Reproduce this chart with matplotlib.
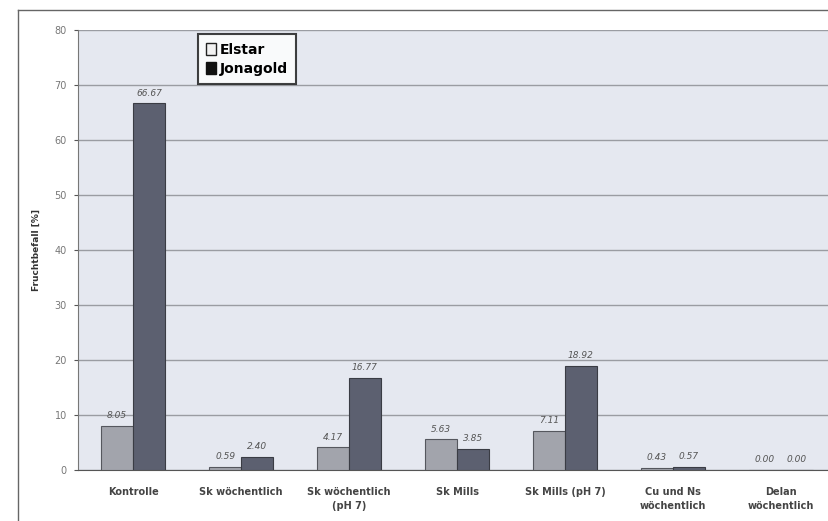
import matplotlib
matplotlib.use("Agg")
import matplotlib.pyplot as plt
import numpy as np
from matplotlib.lines import Line2D

categories = ["Kontrolle", "Sk wöchentlich", "Sk wöchentlich\n(pH 7)", "Sk Mills",
              "Sk Mills (pH 7)", "Cu und Ns\nwöchentlich", "Delan\nwöchentlich"]
elstar = [8.05, 0.59, 4.17, 5.63, 7.11, 0.43, 0.00]
jonagold = [66.67, 2.40, 16.77, 3.85, 18.92, 0.57, 0.00]
series_names = ["Elstar", "Jonagold"]
yticks = [0, 10, 20, 30, 40, 50, 60, 70, 80]

fig = plt.figure(figsize=(8.29, 5.21), dpi=100)
fig.patch.set_facecolor("white")
ax = fig.add_axes([78/829, 1-470/521, 757/829, 440/521])
ax.set_facecolor("#e5e8f0")

x = np.arange(len(categories))
w = 0.295
c_el = "#a2a4ac"
c_jo = "#5c6070"
ax.bar(x - w/2, elstar, w, color=c_el, edgecolor="#55575e", linewidth=0.8, zorder=3)
ax.bar(x + w/2, jonagold, w, color=c_jo, edgecolor="#3a3c44", linewidth=0.8, zorder=3)

for xi, v in zip(x, elstar):
    ax.text(xi - w/2, v + 1.0, f"{v:.2f}", ha="center", va="bottom", fontsize=6.5,
            color="#555555", style="italic", zorder=4)
for xi, v in zip(x, jonagold):
    ax.text(xi + w/2, v + 1.0, f"{v:.2f}", ha="center", va="bottom", fontsize=6.5,
            color="#555555", style="italic", zorder=4)

ax.set_xlim(-0.51, 6.5)
ax.set_ylim(0, 80)
ax.set_yticks(yticks)
ax.set_yticklabels([str(t) for t in yticks], fontsize=7, color="#777777")
ax.yaxis.grid(True, color="#9a9ca2", linewidth=1.0, zorder=0)
ax.set_axisbelow(True)
ax.set_xticks(x)
ax.set_xticklabels(categories, fontsize=7, fontweight="bold", color="#444444", linespacing=1.6)
ax.tick_params(axis="x", length=0, pad=12)
ax.tick_params(axis="y", length=3, color="#555555", pad=5)
for s in ["top", "right"]:
    ax.spines[s].set_visible(False)
ax.spines["left"].set_color("#777777")
ax.spines["bottom"].set_color("#555555")
ax.set_ylabel("Fruchtbefall [%]", fontsize=6.5, fontweight="bold", color="#333333", labelpad=10)

handles = [plt.Rectangle((0, 0), 1, 1, facecolor="#f2f2f2", edgecolor="#222222"),
           plt.Rectangle((0, 0), 1, 1, facecolor="#111111", edgecolor="#111111")]
leg = ax.legend(handles, series_names, loc="upper left", bbox_to_anchor=(0.158, 0.99),
                frameon=True, fancybox=False, handlelength=0.7, handleheight=0.9,
                handletextpad=0.3, borderpad=0.6, labelspacing=0.35, borderaxespad=0,
                prop={"weight": "bold", "size": 10})
leg.get_frame().set_edgecolor("#111111")
leg.get_frame().set_linewidth(1.5)
leg.get_frame().set_facecolor("white")

# outer chart frame
fig.add_artist(Line2D([18/829, 18/829], [0, 1-10/521], transform=fig.transFigure,
                      color="#666666", linewidth=1.0))
fig.add_artist(Line2D([18/829, 1], [1-10/521, 1-10/521], transform=fig.transFigure,
                      color="#666666", linewidth=1.0))

fig.savefig("out.png", dpi=100)
